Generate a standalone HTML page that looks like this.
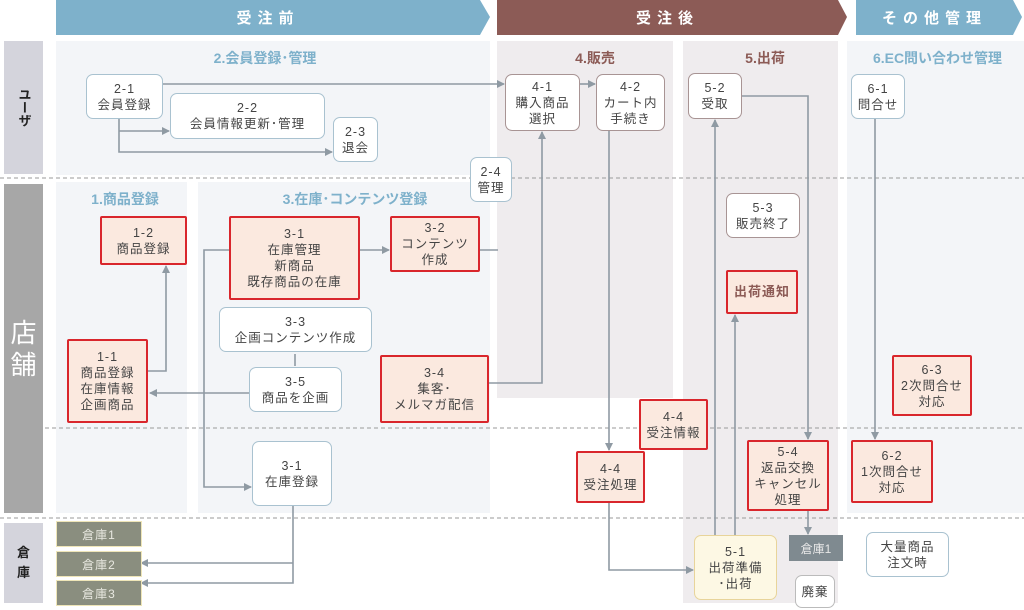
<!DOCTYPE html>
<html><head><meta charset="utf-8"><style>
body{margin:0;width:1024px;height:610px;position:relative;background:#fff;overflow:hidden;font-family:"Liberation Sans","Noto Sans CJK JP",sans-serif;color:#444}
.a{position:absolute;box-sizing:border-box}
.n{position:absolute;box-sizing:border-box;background:#fff;border:1.5px solid #a9c2d0;border-radius:7px;display:flex;align-items:center;justify-content:center;text-align:center;font-size:12.5px;line-height:16px;color:#444;letter-spacing:1px}
.b{border-color:#a89494}
.r{background:#fbe9df;border:2px solid #d9262c;border-radius:2px}
.t{position:absolute;font-size:14px;font-weight:bold;text-align:center}
.hd{position:absolute;top:0;height:35px;color:#fff;font-size:15px;font-weight:bold;letter-spacing:6px;display:flex;align-items:center;justify-content:center}
.w{position:absolute;left:56px;width:84px;height:24px;background:#8a8e7f;border:1px solid #efe6b8;color:#e8e8e0;font-size:12px;display:flex;align-items:center;justify-content:center;letter-spacing:1px}
</style></head><body>
<!-- panels -->
<div class="a" style="left:56px;top:41px;width:434px;height:134px;background:#f3f5f8"></div>
<div class="a" style="left:56px;top:182px;width:131px;height:331px;background:#f3f5f8"></div>
<div class="a" style="left:198px;top:182px;width:292px;height:331px;background:#f3f5f8"></div>
<div class="a" style="left:497px;top:41px;width:176px;height:357px;background:#efecee"></div>
<div class="a" style="left:683px;top:41px;width:155px;height:562px;background:#efecee"></div>
<div class="a" style="left:847px;top:41px;width:177px;height:472px;background:#f3f5f8"></div>
<!-- headers -->
<svg class="a" style="left:0;top:0" width="1024" height="40">
<polygon points="56,0 480,0 490,17 480,35 56,35" fill="#7eb1cb"/>
<polygon points="497,0 838,0 847,17 838,35 497,35" fill="#8c5b56"/>
<polygon points="856,0 1013,0 1022,17 1013,35 856,35" fill="#7eb1cb"/>
</svg>
<div class="hd" style="left:56px;width:424px">受注前</div>
<div class="hd" style="left:497px;width:341px">受注後</div>
<div class="hd" style="left:856px;width:157px">その他管理</div>
<!-- lane labels -->
<div class="a" style="left:4px;top:41px;width:39px;height:133px;background:#d4d4dc;display:flex;align-items:center;justify-content:center;font-weight:bold;font-size:13px;line-height:20px;writing-mode:vertical-rl;color:#222">ユーザ</div>
<div class="a" style="left:4px;top:184px;width:39px;height:329px;background:#a7a7a7;color:#fff;font-size:26px;line-height:32px;display:flex;align-items:center;justify-content:center;text-align:center">店<br>舗</div>
<div class="a" style="left:4px;top:523px;width:39px;height:80px;background:#d4d4dc;display:flex;align-items:center;justify-content:center;font-weight:bold;font-size:13px;line-height:20px;text-align:center;color:#222">倉<br>庫</div>
<!-- titles -->
<div class="t" style="left:190px;top:48px;width:150px;color:#7eb1cb">2.会員登録･管理</div>
<div class="t" style="left:70px;top:189px;width:110px;color:#7eb1cb">1.商品登録</div>
<div class="t" style="left:260px;top:189px;width:190px;color:#7eb1cb">3.在庫･コンテンツ登録</div>
<div class="t" style="left:540px;top:48px;width:110px;color:#8c5b56">4.販売</div>
<div class="t" style="left:720px;top:48px;width:90px;color:#8c5b56">5.出荷</div>
<div class="t" style="left:855px;top:48px;width:165px;color:#7eb1cb">6.EC問い合わせ管理</div>
<!-- dashed + lines -->
<svg class="a" style="left:0;top:0" width="1024" height="610">
<defs><marker id="m" markerWidth="8" markerHeight="8" refX="7" refY="4" orient="auto" markerUnits="userSpaceOnUse"><path d="M0,0 L8,4 L0,8z" fill="#8f9aa3"/></marker></defs>
<g stroke="#9a9a9a" stroke-dasharray="4,3" stroke-width="1">
<line x1="0" y1="178" x2="1024" y2="178"/><line x1="45" y1="428" x2="1024" y2="428"/><line x1="0" y1="518" x2="1024" y2="518"/></g>
<g stroke="#8f9aa3" stroke-width="1.6" fill="none">
<line x1="163" y1="84" x2="504" y2="84" marker-end="url(#m)"/>
<polyline points="119,119 119,152 332,152" marker-end="url(#m)"/>
<line x1="119" y1="131" x2="169" y2="131" marker-end="url(#m)"/>
<polyline points="148,371 166,371 166,266" marker-end="url(#m)"/>
<polyline points="229,250 204,250 204,487 251,487" marker-end="url(#m)"/>
<line x1="360" y1="250" x2="389" y2="250" marker-end="url(#m)"/>
<line x1="480" y1="250" x2="498" y2="250"/>
<line x1="249" y1="393" x2="150" y2="393" marker-end="url(#m)"/>
<line x1="295" y1="354" x2="295" y2="366"/>
<polyline points="489,383 542,383 542,132" marker-end="url(#m)"/>
<line x1="580" y1="84" x2="595" y2="84" marker-end="url(#m)"/>
<line x1="609" y1="131" x2="609" y2="450" marker-end="url(#m)"/>
<polyline points="609,503 609,570 693,570" marker-end="url(#m)"/>
<line x1="715" y1="535" x2="715" y2="120" marker-end="url(#m)"/>
<line x1="735" y1="535" x2="735" y2="315" marker-end="url(#m)"/>
<polyline points="742,96 808,96 808,439" marker-end="url(#m)"/>
<line x1="808" y1="511" x2="808" y2="534" marker-end="url(#m)"/>
<line x1="875" y1="119" x2="875" y2="439" marker-end="url(#m)"/>
<polyline points="293,506 293,583 141,583" marker-end="url(#m)"/>
<line x1="293" y1="563" x2="141" y2="563" marker-end="url(#m)"/>
</g></svg>
<!-- nodes -->
<div class="n" style="left:86px;top:74px;width:77px;height:45px">2-1<br>会員登録</div>
<div class="n" style="left:170px;top:93px;width:155px;height:46px">2-2<br>会員情報更新･管理</div>
<div class="n" style="left:333px;top:117px;width:45px;height:45px">2-3<br>退会</div>
<div class="n" style="left:470px;top:157px;width:42px;height:45px">2-4<br>管理</div>
<div class="n r" style="left:100px;top:216px;width:87px;height:49px">1-2<br>商品登録</div>
<div class="n r" style="left:229px;top:216px;width:131px;height:84px">3-1<br>在庫管理<br>新商品<br>既存商品の在庫</div>
<div class="n r" style="left:390px;top:216px;width:90px;height:56px">3-2<br>コンテンツ<br>作成</div>
<div class="n" style="left:219px;top:307px;width:153px;height:45px">3-3<br>企画コンテンツ作成</div>
<div class="n" style="left:249px;top:367px;width:93px;height:45px">3-5<br>商品を企画</div>
<div class="n r" style="left:67px;top:339px;width:81px;height:84px">1-1<br>商品登録<br>在庫情報<br>企画商品</div>
<div class="n r" style="left:380px;top:355px;width:109px;height:68px">3-4<br>集客･<br>メルマガ配信</div>
<div class="n" style="left:252px;top:441px;width:80px;height:65px">3-1<br>在庫登録</div>
<div class="w" style="top:521px">倉庫1</div>
<div class="w" style="top:551px">倉庫2</div>
<div class="w" style="top:580px">倉庫3</div>
<div class="n b" style="left:505px;top:74px;width:75px;height:57px">4-1<br>購入商品<br>選択</div>
<div class="n b" style="left:596px;top:74px;width:69px;height:57px">4-2<br>カート内<br>手続き</div>
<div class="n b" style="left:688px;top:73px;width:54px;height:46px">5-2<br>受取</div>
<div class="n" style="left:851px;top:74px;width:54px;height:45px">6-1<br>問合せ</div>
<div class="n b" style="left:726px;top:193px;width:74px;height:45px">5-3<br>販売終了</div>
<div class="n r" style="left:726px;top:270px;width:72px;height:44px;color:#8c5b56;font-weight:bold;font-size:13px">出荷通知</div>
<div class="n r" style="left:639px;top:399px;width:69px;height:51px">4-4<br>受注情報</div>
<div class="n r" style="left:576px;top:451px;width:69px;height:52px">4-4<br>受注処理</div>
<div class="n r" style="left:747px;top:440px;width:82px;height:71px">5-4<br>返品交換<br>キャンセル<br>処理</div>
<div class="n r" style="left:851px;top:440px;width:82px;height:63px">6-2<br>1次問合せ<br>対応</div>
<div class="n r" style="left:892px;top:355px;width:80px;height:61px">6-3<br>2次問合せ<br>対応</div>
<div class="n" style="left:694px;top:535px;width:83px;height:65px;background:#fdf8e4;border-color:#e8d49a">5-1<br>出荷準備<br>･出荷</div>
<div class="a" style="left:789px;top:535px;width:54px;height:26px;background:#7f8a90;color:#e8e8e8;font-size:12px;display:flex;align-items:center;justify-content:center">倉庫1</div>
<div class="n b" style="left:795px;top:575px;width:40px;height:33px;border-color:#bbb">廃棄</div>
<div class="n" style="left:866px;top:532px;width:83px;height:45px">大量商品<br>注文時</div>
</body></html>
